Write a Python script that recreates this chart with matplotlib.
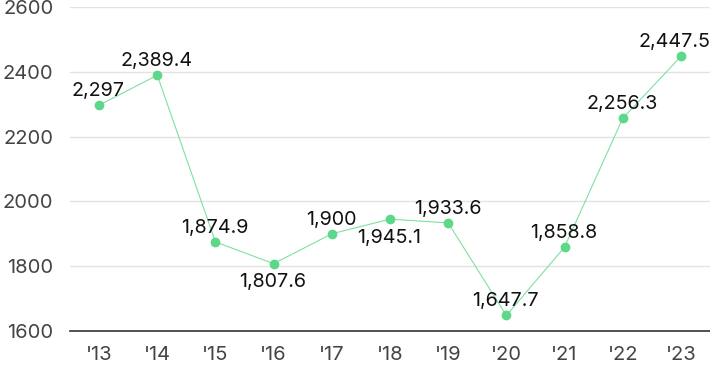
import matplotlib
matplotlib.use("Agg")
import matplotlib.pyplot as plt

years = ["'13", "'14", "'15", "'16", "'17", "'18", "'19", "'20", "'21", "'22", "'23"]
values = [2297, 2389.4, 1874.9, 1807.6, 1900, 1945.1, 1933.6, 1647.7, 1858.8, 2256.3, 2447.5]
labels = ["2,297", "2,389.4", "1,874.9", "1,807.6", "1,900", "1,945.1", "1,933.6", "1,647.7", "1,858.8", "2,256.3", "2,447.5"]
below = [False, False, False, True, False, True, False, False, False, False, False]
yticks = [1600, 1800, 2000, 2200, 2400, 2600]

plt.rcParams['font.family'] = ['Inter', 'DejaVu Sans']

fig = plt.figure(figsize=(7.1, 3.71), dpi=100)
ax = fig.add_axes([0.0986, 0.108, 0.9014, 0.873])

x = list(range(len(years)))
ax.plot(x, values, color="#7fe0a0", lw=0.8, zorder=3)
ax.plot(x, values, 'o', color="#5dd88a", ms=6, zorder=4)

n = len(x)
for i, (xi, v, lab, b) in enumerate(zip(x, values, labels, below)):
    dx = -5 if i == n - 1 else -0.5
    dy = -17 if b else 6.5
    ax.annotate(lab, (xi, v), xytext=(dx, dy), textcoords="offset points",
                ha="center", va="baseline", fontsize=14.2, color="#111111",
                annotation_clip=False)

ax.set_xlim(-0.5, len(years) - 0.5)
ax.set_ylim(1600, 2600)
ax.set_yticks(yticks)
ax.set_xticks(x)
ax.set_xticklabels(years)
ax.yaxis.grid(True, color="#e3e3e3", lw=1)
ax.set_axisbelow(True)
for s in ["top", "right", "left"]:
    ax.spines[s].set_visible(False)
ax.spines["bottom"].set_color("#333333")
ax.spines["bottom"].set_linewidth(1.2)
ax.tick_params(length=0, labelsize=14.5, colors="#444444")
ax.tick_params(axis="y", pad=12)
ax.tick_params(axis="x", pad=11)
fig.savefig("out.png", dpi=100)
